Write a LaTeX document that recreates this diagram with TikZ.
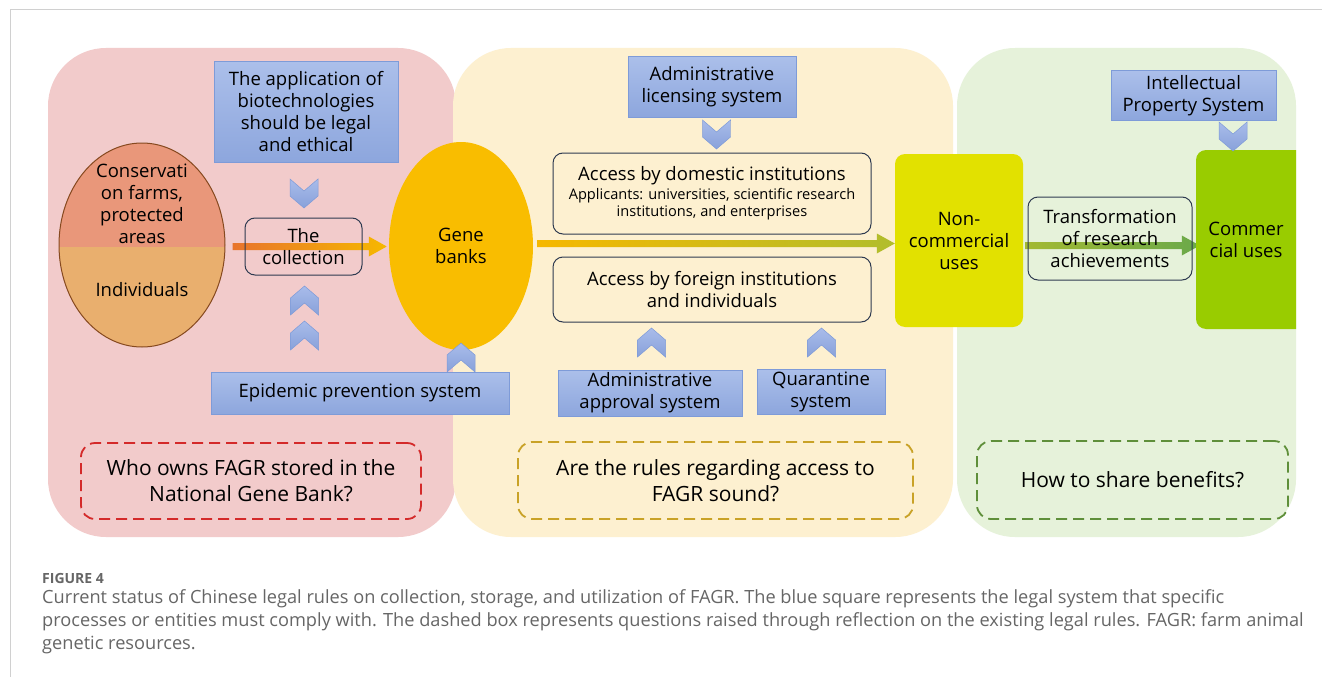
\documentclass[tikz,border=0pt]{standalone}
\usepackage{fontspec}
\setmainfont{Open Sans}
\usetikzlibrary{shapes.geometric,calc}
\pgfdeclarelayer{back}
\pgfdeclarelayer{mid}
\pgfsetlayers{back,mid,main}
\definecolor{pinkbg}{HTML}{F2CBCB}
\definecolor{yelbg}{HTML}{FDF0D0}
\definecolor{grnbg}{HTML}{E6F2DA}
\definecolor{systop}{HTML}{ABBFEA}
\definecolor{sysbot}{HTML}{8DA6DD}
\definecolor{sysdraw}{HTML}{7E9BD8}
\definecolor{chevtop}{HTML}{A9BCEA}
\definecolor{chevbot}{HTML}{88A1DA}
\definecolor{salmon}{HTML}{E9977A}
\definecolor{sand}{HTML}{E9AF6E}
\definecolor{ellline}{HTML}{86491F}
\definecolor{gold}{HTML}{F9BD00}
\definecolor{lime}{HTML}{E2E100}
\definecolor{leaf}{HTML}{99CC00}
\definecolor{boxline}{HTML}{2E3A50}
\definecolor{dred}{HTML}{D42A2A}
\definecolor{dgold}{HTML}{C9A227}
\definecolor{dgreen}{HTML}{5F8F3A}
\definecolor{arrA}{HTML}{E8742C}
\definecolor{arrB}{HTML}{F6B800}
\definecolor{arrC}{HTML}{B1BD2C}
\definecolor{arrD}{HTML}{6AA94A}
\definecolor{capgray}{HTML}{666666}
\definecolor{framegray}{HTML}{D0D0D0}
\newcommand\gradarr[4]{%
  \shade[left color=#3,right color=#4] let \p1=#1, \p2=#2 in
    (\x1,\y1+3.5) -- (\x2-18,\y1+3.5) -- (\x2-18,\y1+10) -- (\x2,\y1)
    -- (\x2-18,\y1-10) -- (\x2-18,\y1-3.5) -- (\x1,\y1-3.5) -- cycle;}
\tikzset{
  region/.style={rounded corners=58},
  sysbox/.style={draw=sysdraw, line width=1, top color=systop, bottom color=sysbot,
     align=center, inner sep=0, text=black, font=\fontsize{18.5}{22}\selectfont},
  procbox/.style={draw=boxline, line width=1, rounded corners=10, align=center, inner sep=0,
     font=\fontsize{18.5}{22}\selectfont},
  qbox/.style={line width=1.8, dash pattern=on 11pt off 6pt, rounded corners=14, align=center,
     inner sep=0, font=\fontsize{21}{26}\selectfont},
  chev/.style={top color=chevtop, bottom color=chevbot, draw=sysdraw, line width=0.5},
  downchev/.pic={\path[chev] (-14,0) -- (0,12) -- (14,0) -- (14,17) -- (0,29) -- (-14,17) -- cycle;},
  upchev/.pic={\path[chev] (-14,0) -- (0,-12) -- (14,0) -- (14,-17) -- (0,-29) -- (-14,-17) -- cycle;},
  lbl/.style={align=center, inner sep=0, font=\fontsize{18.5}{22}\selectfont},
  captxt/.style={anchor=base west, inner sep=0, text=capgray, font=\fontsize{18.2}{21}\selectfont}
}
\begin{document}
\begin{tikzpicture}[x=1pt,y=-1pt]
\useasboundingbox (0,0) rectangle (1322,677);
% regions
\begin{pgfonlayer}{back}
\fill[white] (0,0) rectangle (1322,677);
\draw[framegray, line width=1] (10,677) -- (10,10) -- (1322,10);
\fill[pinkbg, region] (48,48) rectangle (456,537);
\fill[yelbg, region] (453,48) rectangle (953,537);
\fill[grnbg, region] (957,48) rectangle (1296,537);
\end{pgfonlayer}
% ---------- left part
\node[sysbox, minimum width=184, minimum height=100] (bio) at (306,112)
  {The application of\\biotechnologies\\should be legal\\and ethical};
\node[ellipse, draw=ellline, line width=1, minimum width=166, minimum height=204, inner sep=0,
  path picture={\fill[salmon] (path picture bounding box.north west) rectangle ([yshift=-2pt]path picture bounding box.east);
                \fill[sand] ([yshift=-2pt]path picture bounding box.west) rectangle (path picture bounding box.south east);}]
  (src) at (142,245) {};
\node[lbl] (srcA) at (142,204) {Conservati\\on farms,\\protected\\areas};
\node[lbl] (srcB) at (142,290) {Individuals};
\node[procbox, minimum width=117, minimum height=57] (coll) at (303.5,246.5) {The\\collection};
\node[ellipse, fill=gold, minimum width=144, minimum height=208, inner sep=0, lbl] (gene) at (461,246) {Gene\\banks};
\node[sysbox, minimum width=298, minimum height=42] (epi) at (360,393) {Epidemic prevention system};
\node[qbox, draw=dred, minimum width=340, minimum height=76] (q1) at (251,481)
  {Who owns FAGR stored in the\\National Gene Bank?};
\pic at (304,179) {downchev};
\pic at (304.5,315) {upchev};
\pic at (304.5,350) {upchev};
\pic at (461,372) {upchev};
% ---------- middle part
\node[sysbox, minimum width=168, minimum height=60] (lic) at (712,87) {Administrative\\licensing system};
\node[procbox, minimum width=318, minimum height=81] (dom) at (712,193.5)
  {Access by domestic institutions\\[-3pt]{\fontsize{14.6}{17}\selectfont Applicants: universities, scientific research}\\[-5pt]{\fontsize{14.6}{17}\selectfont institutions, and enterprises}};
\node[procbox, minimum width=318, minimum height=65] (for) at (712,289.5)
  {Access by foreign institutions\\and individuals};
\node[sysbox, minimum width=184, minimum height=46] (appr) at (650,393) {Administrative\\approval system};
\node[sysbox, minimum width=128, minimum height=45] (quar) at (821,391.5) {Quarantine\\system};
\node[qbox, draw=dgold, minimum width=395, minimum height=77] (q2) at (715.5,480.5)
  {Are the rules regarding access to\\FAGR sound?};
\pic at (716.5,120) {downchev};
\pic at (651.5,357) {upchev};
\pic at (821.5,357) {upchev};
% ---------- right part
\node[fill=lime, rounded corners=10, minimum width=128, minimum height=173, lbl] (non) at (959,240.5)
  {Non-\\commercial\\uses};
\node[procbox, minimum width=164, minimum height=83] (tra) at (1110,238.5)
  {Transformation\\of research\\achievements};
\begin{scope}
\clip (1180,140) rectangle (1296,340);
\fill[leaf, rounded corners=10] (1196,150) rectangle (1320,329);
\end{scope}
\node[minimum width=100, minimum height=179, lbl] (com) at (1246,239.5) {Commer\\cial uses};
\node[sysbox, minimum width=165, minimum height=49] (ip) at (1193.5,95.5) {Intellectual\\Property System};
\pic at (1233,122) {downchev};
\node[qbox, draw=dgreen, minimum width=311, minimum height=78] (q3) at (1132.5,480) {How to share benefits?};
% ---------- arrows
\begin{pgfonlayer}{mid}
\gradarr{($(src.east)+(7,1.5)$)}{($(gene.west)+(-2,0)$)}{arrA}{arrB}
\gradarr{($(gene.east)+(4,-2.5)$)}{($(non.west)+(0,0)$)}{arrB}{arrC}
\gradarr{($(non.east)+(2,5)$)}{($(com.west)+(4,0)$)}{arrC!80!arrD}{arrD}
\end{pgfonlayer}
% ---------- caption
\node[captxt, font=\bfseries\fontsize{14}{17}\selectfont] (figlbl) at (42,583) {FIGURE 4};
\node[captxt] (cap1) at (42,603) {Current status of Chinese legal rules on collection, storage, and utilization of FAGR. The blue square represents the legal system that specific};
\node[captxt] (cap2) at (42,626) {processes or entities must comply with. The dashed box represents questions raised through reflection on the existing legal rules. FAGR: farm animal};
\node[captxt] (cap3) at (42,649) {genetic resources.};
\end{tikzpicture}
\end{document}
